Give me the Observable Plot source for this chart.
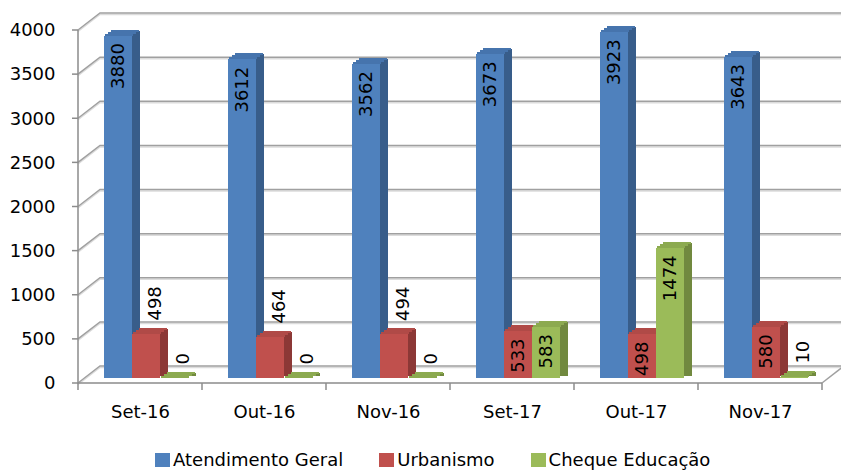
<!DOCTYPE html>
<html>
<head>
<meta charset="utf-8">
<script src="https://cdn.jsdelivr.net/npm/d3@7"></script>
<script src="https://cdn.jsdelivr.net/npm/@observablehq/plot@0.6"></script>
<style>
  body { margin: 0; background: #fff; font-family: "DejaVu Sans", sans-serif; }
  #wrap { position: relative; width: 841px; height: 472px; }
  #legend { position: absolute; left: 155px; top: 449px; display: flex; align-items: center; font-size: 18px; line-height: 22px; color: #000; }
  .item { display: flex; align-items: center; margin-right: 36px; }
  .sw { width: 15px; height: 14px; margin-right: 3px; }
</style>
</head>
<body>
<div id="wrap"><div id="chart"></div><div id="legend"></div></div>
<script>
// ---- data ----
const months = ["Set-16", "Out-16", "Nov-16", "Set-17", "Out-17", "Nov-17"];
const seriesNames = ["Atendimento Geral", "Urbanismo", "Cheque Educação"];
const atendimentoGeral = [3880, 3612, 3562, 3673, 3923, 3643];
const urbanismo = [498, 464, 494, 533, 498, 580];
const chequeEducacao = [0, 0, 0, 583, 1474, 10];
const yTicks = [0, 500, 1000, 1500, 2000, 2500, 3000, 3500, 4000];

// ---- styles ----
const frontColors = ["#4F81BD", "#C0504D", "#9BBB59"];
const topColors = ["#4674AD", "#B04A47", "#8CAA50"];
const sideColors = ["#385D8A", "#8C3836", "#71893F"];

const valuesBySeries = [atendimentoGeral, urbanismo, chequeEducacao];
const table = [];
seriesNames.forEach((s, k) => months.forEach((m, i) => table.push({month: m, series: s, k, value: valuesBySeries[k][i]})));

const W = 841, H = 445, ML = 78, MR = 19, MT = 30, MB = 62;
const DX = 22, DY = -17; // depth of the 3D walls
const BAR_W = 28, BAR_START = 26, SIDE = 8, LIFT = -5;

// labels inside the bar or above it (as in the reference)
function inside(d) {
  if (d.k === 0) return true;
  return d.month.endsWith("17") && d.value >= 100;
}

function walls(index, scales, values, dims) {
  const y = scales.y;
  const left = dims.marginLeft, right = dims.width - dims.marginRight;
  const g = d3.create("svg:g").attr("fill", "none");
  for (const t of yTicks) {
    const yy = y(t);
    g.append("path").attr("d", `M${left},${yy + 1.5}L${left + DX},${yy + DY + 1.5}H${dims.width}`)
      .attr("stroke", "#dcdcdc").attr("stroke-width", 1.5);
    g.append("path").attr("d", `M${left},${yy}L${left + DX},${yy + DY}H${dims.width}`)
      .attr("stroke", "#a0a0a0").attr("stroke-width", 1.5);
  }
  const y0 = y(0);
  g.append("path").attr("d", `M${right},${y0}L${right + DX},${y0 + DY}`).attr("stroke", "#a0a0a0").attr("stroke-width", 1.5);
  return g.node();
}

function frontAxes(index, scales, values, dims) {
  const y = scales.y;
  const left = dims.marginLeft, right = dims.width - dims.marginRight;
  const y0 = y(0);
  const g = d3.create("svg:g").attr("fill", "none").attr("stroke", "#8c8c8c").attr("stroke-width", 1.5);
  g.append("path").attr("d", `M${left},${y(4000)}V${y0}H${right}`);
  for (const t of yTicks) g.append("path").attr("d", `M${left - 6},${y(t)}H${left}`);
  const n = months.length;
  for (let i = 0; i <= n; i++) {
    const xx = left + i * (right - left) / n;
    g.append("path").attr("d", `M${xx},${y0}V${y0 + 7}`);
  }
  return g.node();
}

const marks = [walls];
const bw = (W - ML - MR) / months.length;
seriesNames.forEach((s, k) => {
  const data = table.filter(d => d.k === k);
  const l = BAR_START + BAR_W * k;
  const r = bw - l - BAR_W;
  // side face
  marks.push(Plot.barY(data, {x: "month", y: "value", fill: sideColors[k], insetLeft: l + BAR_W - 1, insetRight: r - SIDE, insetTop: -5, insetBottom: 2, dy: LIFT, shapeRendering: "crispEdges"}));
  // top face, built from thin slanted strips
  for (let j = 0; j < 3; j++) {
    const off = (j + 0.5) * SIDE / 3;
    marks.push(Plot.barY(data, {x: "month", y1: "value", y2: "value", fill: topColors[k], insetLeft: l + off, insetRight: r - off, insetTop: -(2 * j + 2), insetBottom: 2 * j, dy: LIFT, shapeRendering: "crispEdges"}));
  }
  // front face
  marks.push(Plot.barY(data, {x: "month", y: "value", fill: frontColors[k], insetLeft: l, insetRight: r, dy: LIFT, shapeRendering: "crispEdges"}));
});
marks.push(frontAxes);
seriesNames.forEach((s, k) => {
  const data = table.filter(d => d.k === k);
  const cx = BAR_START + BAR_W * k + BAR_W / 2 - bw / 2;
  marks.push(Plot.text(data.filter(inside), {x: "month", y: "value", text: d => String(d.value), rotate: -90, textAnchor: "end", dx: cx, dy: 2, fill: "#000"}));
  marks.push(Plot.text(data.filter(d => !inside(d)), {x: "month", y: "value", text: d => String(d.value), rotate: -90, textAnchor: "start", dx: cx + 9, dy: -19, fill: "#000"}));
});

const chart = Plot.plot({
  width: W, height: H,
  marginLeft: ML, marginRight: MR, marginTop: MT, marginBottom: MB,
  style: {fontFamily: "DejaVu Sans, sans-serif", fontSize: "18px", color: "#000", background: "transparent"},
  x: {domain: months, padding: 0, tickSize: 0, tickPadding: 22, label: null},
  y: {domain: [0, 4000], ticks: yTicks, tickFormat: d => String(d), tickSize: 0, tickPadding: 23, label: null},
  marks
});
chart.style.fontSize = "18px";
document.getElementById("chart").appendChild(chart);

const legend = document.getElementById("legend");
seriesNames.forEach((s, k) => {
  const it = document.createElement("div"); it.className = "item";
  const sw = document.createElement("div"); sw.className = "sw"; sw.style.background = frontColors[k];
  const tx = document.createElement("span"); tx.textContent = s;
  it.appendChild(sw); it.appendChild(tx); legend.appendChild(it);
});
</script>
</body>
</html>
